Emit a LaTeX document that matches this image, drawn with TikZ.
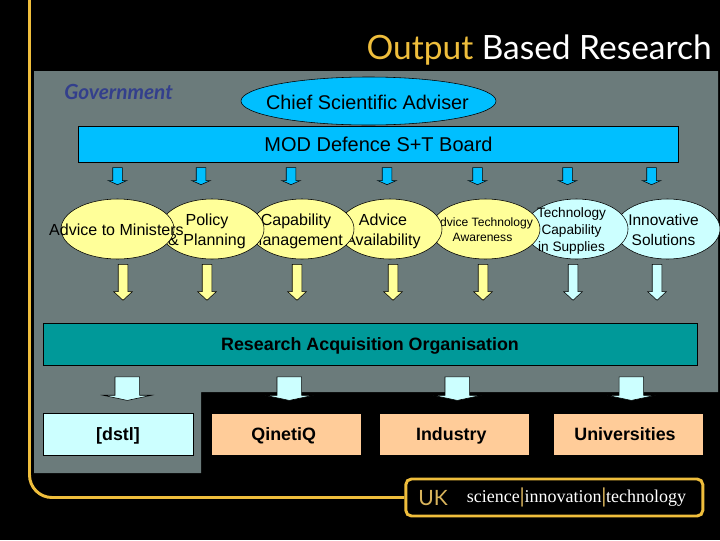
\documentclass[tikz,border=0pt]{standalone}
\usepackage{xcolor}
\usepackage{fontspec}
\setmainfont{Liberation Sans}
\newfontfamily\titlefont{Lato}
\newfontfamily\ukfont{Liberation Serif}
\definecolor{mpanel}{HTML}{6B7B7B}
\definecolor{mgold}{HTML}{EFBE3C}
\definecolor{mtan}{HTML}{D9B45C}
\definecolor{mcyan}{HTML}{00BFFF}
\definecolor{mteal}{HTML}{009999}
\definecolor{myellow}{HTML}{FFFF99}
\definecolor{mice}{HTML}{CCFFFF}
\definecolor{mpeach}{HTML}{FFCC99}
\definecolor{mnavy}{HTML}{333F8C}
\usepackage{tikz}
\usetikzlibrary{shapes.geometric,shapes.arrows}
\newcommand{\pxu}{0.025cm}
\tikzset{
  oval/.style={ellipse, draw=black, inner sep=0pt, minimum height=60*\pxu},
  ovaltext/.style={align=center, text=black, inner sep=0pt, font=\fontsize{11.4}{14.2}\selectfont},
  bar/.style={rectangle, draw=black, inner sep=0pt},
  partner/.style={rectangle, fill=mpeach, inner sep=0pt, minimum width=149*\pxu, minimum height=41*\pxu},
  boldtext/.style={anchor=base, inner sep=0pt, text=black, font=\fontsize{12.7}{14}\selectfont\bfseries},
  thinarrow/.style={single arrow, draw=black, inner sep=4.5*\pxu, anchor=tip, shape border rotate=270,
    single arrow head extend=4.5*\pxu, single arrow head indent=0pt},
  fatarrow/.style={single arrow, draw=black, fill=mice, inner xsep=12*\pxu, inner ysep=0pt, anchor=tip, shape border rotate=270,
    minimum height=23.5*\pxu, single arrow head extend=12*\pxu,
    single arrow head indent=0pt, single arrow tip angle=156},
}
\begin{document}
\begin{tikzpicture}[x=0.025cm, y=-0.025cm]

            \useasboundingbox (0, 0) rectangle (720, 540);
            \fill[black] (0, 0) rectangle (720, 540);
            \fill[mpanel] (34, 71) -- (718, 71) -- (718, 392) -- (201, 392) -- (201, 473) -- (34, 473) -- cycle;

            \node[anchor=base east, inner sep=0pt, text=white, font=\titlefont\fontsize{23.8}{28}\selectfont] (title) at (712, 59) {\textcolor{mgold}{Output} Based Research};
            \node[anchor=base west, inner sep=0pt, text=mnavy, font=\titlefont\fontsize{14.8}{16}\selectfont\bfseries\itshape] (government) at (64, 99) {Government};

            \node[ellipse, draw=black, fill=mcyan, inner sep=0pt, minimum width=255*\pxu, minimum height=48*\pxu] (adviser) at (368.5, 101) {};
            \node[inner sep=0pt, font=\fontsize{14.1}{16}\selectfont] (advisertext) at (367.5, 102) {Chief Scientific Adviser};
            \node[bar, fill=mcyan, minimum width=600*\pxu, minimum height=36*\pxu, font=\fontsize{14.2}{16}\selectfont] (board) at (378.5, 144.5) {MOD Defence S+T Board};

            \foreach \x in {117.5, 201, 291, 387, 477.5, 567.5, 651.5}
              \node[thinarrow, fill=mcyan, minimum height=17*\pxu, single arrow tip angle=132] (blue\x) at (\x, 185) {};

            % drawn from right to left, each oval covers the next one
            \node[oval, fill=mice, minimum width=105*\pxu] (solutions) at (667.5, 229) {};
            \node[ovaltext, font=\fontsize{11}{14.2}\selectfont] (solutionstext) at (663.5, 229.5) {Innovative\\Solutions};
            \node[oval, fill=mice, minimum width=103*\pxu] (supplies) at (576.5, 229) {};
            \node[ovaltext, font=\fontsize{9.7}{12}\selectfont] (suppliestext) at (571.5, 231) {Technology\\Capability\\in Supplies};
            \node[oval, fill=myellow, minimum width=109*\pxu] (awareness) at (485.5, 229) {};
            \node[ovaltext, font=\fontsize{8.6}{10.5}\selectfont] (awarenesstext) at (482.5, 229.5) {Advice Technology\\Awareness};
            \node[oval, fill=myellow, minimum width=104*\pxu] (availability) at (390, 229) {};
            \node[ovaltext] (availabilitytext) at (383, 231) {Advice\\Availability};
            \node[oval, fill=myellow, minimum width=104*\pxu] (management) at (302, 229) {};
            \node[ovaltext] (managementtext) at (296, 231) {Capability\\Management};
            \node[oval, fill=myellow, minimum width=104*\pxu] (planning) at (212, 229) {};
            \node[ovaltext] (planningtext) at (207, 231) {Policy\\\& Planning};
            \node[oval, fill=myellow, minimum width=113*\pxu] (ministers) at (117.5, 229) {};
            \node[ovaltext] (ministerstext) at (116.5, 230) {Advice to Ministers};

            \foreach \x in {123, 207, 297, 393, 483}
              \node[thinarrow, fill=myellow, minimum height=36*\pxu, single arrow tip angle=94] (yellow\x) at (\x, 300.7) {};
            \foreach \x in {573, 657}
              \node[thinarrow, fill=mice, minimum height=36*\pxu, single arrow tip angle=94] (ice\x) at (\x, 300.7) {};

            \node[bar, fill=mteal, minimum width=654*\pxu, minimum height=42*\pxu] (acquisition) at (370.5, 344.3) {};
            \node[boldtext] (acquisitiontext) at (370, 350) {Research Acquisition Organisation};

            \foreach \x in {127.3, 289.3, 457.3, 631.3}
              \node[fatarrow] (fat\x) at (\x, 400.7) {};

            \node[bar, fill=mice, minimum width=150.5*\pxu, minimum height=42*\pxu] (dstl) at (118.5, 434.3) {};
            \node[boldtext] (dstltext) at (118, 440) {[dstl]};
            \node[partner] (qinetiq) at (286.5, 434.5) {};
            \node[boldtext] (qinetiqtext) at (283.7, 440) {QinetiQ};
            \node[partner] (industry) at (454.5, 434.5) {};
            \node[boldtext] (industrytext) at (451.3, 440) {Industry};
            \node[partner] (universities) at (628.5, 434.5) {};
            \node[boldtext] (universitiestext) at (625, 440) {Universities};

            \node[rectangle, rounded corners=4pt, draw=mgold, line width=2.1pt, inner sep=0pt, minimum width=297*\pxu, minimum height=37*\pxu] (ukbox) at (554.3, 497.5) {};
            \coordinate (railtop) at (29.5, 0);
            \draw[mgold, line width=2.1pt, rounded corners=16pt] (railtop) |- (ukbox.west);
            \node[anchor=base west, inner sep=0pt, text=mtan, font=\titlefont\fontsize{15}{18}\selectfont] (uk) at (418, 505) {UK};
            \node[anchor=base west, inner sep=0pt, text=white, font=\ukfont\fontsize{12.8}{14}\selectfont] (sit) at (466.7, 502) {science{\fontsize{15}{14}\selectfont\bfseries\textcolor{mtan}{|}}innovation{\fontsize{15}{14}\selectfont\bfseries\textcolor{mtan}{|}}technology};

          \end{tikzpicture}
\end{document}
